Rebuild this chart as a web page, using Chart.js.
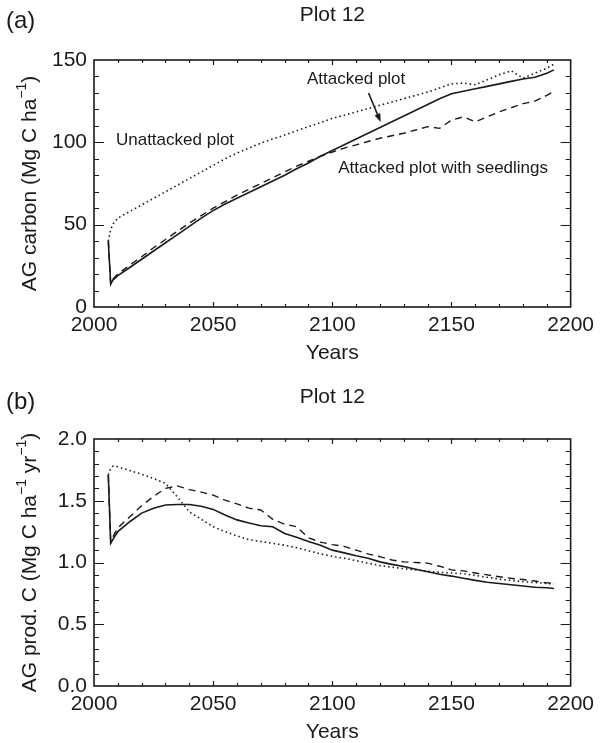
<!DOCTYPE html>
<html>
<head>
<meta charset="utf-8">
<script src="https://cdn.jsdelivr.net/npm/chart.js@4"></script>
<style>
  html, body { margin: 0; padding: 0; background: #fff; }
  #wrap { position: relative; width: 600px; height: 743px; }
  canvas { position: absolute; left: 0; }
</style>
</head>
<body>
<div id="wrap">
  <canvas id="chartA" width="600" height="371" style="top:0"></canvas>
  <canvas id="chartB" width="600" height="372" style="top:371px"></canvas>
</div>
<script>
// --- DATA ---
const years = [2006, 2007, 2008, 2010, 2015, 2020, 2025, 2030, 2035, 2040, 2045, 2050,
  2055, 2060, 2065, 2070, 2075, 2080, 2085, 2090, 2095, 2100,
  2105, 2110, 2115, 2120, 2125, 2130, 2135, 2140, 2145, 2150,
  2155, 2160, 2165, 2170, 2175, 2180, 2185, 2190, 2193];

// (a) AG carbon, Mg C/ha
const carbonAttacked = [40, 14, 16.5,
  19, 24, 29, 34, 39, 44, 49, 54, 58.5,
  62.5, 66, 69.5, 73, 76.5, 80, 84, 87.5, 91.5, 95,
  98.5, 102, 105.5, 109, 112.5, 116, 119.5, 123, 126.5, 129.5,
  131, 132.5, 134, 135.5, 137, 138.5, 139.5, 142, 144];
const carbonSeedlings = [40, 14, 17,
  20, 25.5, 30.5, 36, 41, 46, 51, 55.5, 60,
  64, 68, 71.5, 75, 78.5, 82, 85.5, 88.5, 91.5, 94,
  96.5, 98.5, 100.5, 102.5, 104, 105.5, 107.5, 109.5, 108.5, 113.5,
  115.5, 112.5, 115.5, 118.5, 121, 123.5, 125, 128.5, 131];
const carbonUnattacked = [40, 47, 50.5,
  54, 58, 62, 66, 70, 74, 78, 82, 86,
  90, 93.5, 96.5, 99.5, 102, 104.5, 107, 109.5, 112, 114.5,
  116.5, 118.5, 120.5, 122.5, 124.5, 126.5, 128.5, 130.5, 133, 135.5,
  136, 135, 138, 141, 143.5, 139, 142, 145, 147.5];

// (b) AG production, Mg C/ha/yr
const prodAttacked = [1.71, 1.155, 1.19,
  1.25, 1.33, 1.40, 1.44, 1.465, 1.47, 1.47, 1.455, 1.43,
  1.385, 1.345, 1.32, 1.298, 1.29, 1.235, 1.205, 1.17, 1.14, 1.10,
  1.078, 1.055, 1.035, 1.005, 0.985, 0.967, 0.945, 0.925, 0.905, 0.89,
  0.872, 0.855, 0.84, 0.83, 0.82, 0.81, 0.80, 0.795, 0.79];
const prodSeedlings = [1.71, 1.17, 1.21,
  1.28, 1.37, 1.46, 1.535, 1.60, 1.62, 1.59, 1.57, 1.545,
  1.505, 1.475, 1.44, 1.425, 1.35, 1.31, 1.29, 1.20, 1.165, 1.145,
  1.13, 1.10, 1.07, 1.047, 1.02, 1.005, 1.0, 0.995, 0.97, 0.94,
  0.932, 0.915, 0.90, 0.885, 0.872, 0.862, 0.85, 0.835, 0.832];
const prodUnattacked = [1.71, 1.76, 1.78,
  1.775, 1.745, 1.715, 1.68, 1.64, 1.53, 1.41, 1.35, 1.29,
  1.25, 1.215, 1.185, 1.17, 1.155, 1.14, 1.12, 1.095, 1.07, 1.05,
  1.035, 1.015, 0.995, 0.975, 0.962, 0.95, 0.94, 0.93, 0.92, 0.915,
  0.91, 0.895, 0.88, 0.865, 0.855, 0.845, 0.838, 0.83, 0.826];

const xTicks = [2000, 2050, 2100, 2150, 2200];
const carbonTicks = [0, 50, 100, 150];
const prodTicks = [0, 0.5, 1.0, 1.5, 2.0];

// text labels placed in data coordinates (panel a)
const notesA = [
  { text: 'Unattacked plot', x: 2034, y: 101.5 },
  { text: 'Attacked plot', x: 2110, y: 138 },
  { text: 'Attacked plot with seedlings', x: 2146.5, y: 84.5 }
];
const arrowA = { from: [2115.2, 130], to: [2120.3, 112.3] };

// --- RENDERING ---
const FONT = "'Liberation Sans', Arial, Helvetica, sans-serif";
const INK = '#1a1a1a';

const pts = vals => vals.map((v, i) => ({ x: years[i], y: v }));

const lineStyles = {
  attacked:   { borderColor: INK, borderWidth: 1.6, borderDash: [] },
  seedlings:  { borderColor: INK, borderWidth: 1.4, borderDash: [7, 5] },
  unattacked: { borderColor: INK, borderWidth: 1.6, borderDash: [1.5, 3] }
};

// frame + inward ticks on all four sides
const frameTicks = {
  id: 'frameTicks',
  afterDatasetsDraw(chart, args, o) {
    const { ctx, chartArea: a, scales: { x, y } } = chart;
    ctx.save();
    ctx.strokeStyle = INK;
    ctx.lineWidth = 1.2;
    const nx = Math.round((x.max - x.min) / o.xMinor);
    const kx = Math.round(o.xMajor / o.xMinor);
    for (let i = 1; i < nx; i++) {
      const px = Math.round(x.getPixelForValue(x.min + i * o.xMinor)) + 0.5;
      const len = i % kx === 0 ? 5 : 3;
      ctx.beginPath();
      ctx.moveTo(px, a.bottom); ctx.lineTo(px, a.bottom - len);
      ctx.moveTo(px, a.top); ctx.lineTo(px, a.top + len);
      ctx.stroke();
    }
    const ny = Math.round((y.max - y.min) / o.yMinor);
    const ky = Math.round(o.yMajor / o.yMinor);
    for (let i = 1; i < ny; i++) {
      const py = Math.round(y.getPixelForValue(y.min + i * o.yMinor)) + 0.5;
      const len = i % ky === 0 ? 10 : 5;
      ctx.beginPath();
      ctx.moveTo(a.left, py); ctx.lineTo(a.left + len, py);
      ctx.moveTo(a.right, py); ctx.lineTo(a.right - len, py);
      ctx.stroke();
    }
    ctx.lineWidth = 1.6;
    ctx.strokeRect(a.left, a.top, a.right - a.left, a.bottom - a.top);
    ctx.restore();
  }
};

// titles, axis titles with superscripts, annotations
const texts = {
  id: 'texts',
  afterDraw(chart, args, o) {
    const { ctx, chartArea: a, scales: { x, y } } = chart;
    const cx = (a.left + a.right) / 2;
    ctx.save();
    ctx.fillStyle = INK;
    ctx.textBaseline = 'middle';

    ctx.font = `21px ${FONT}`;
    ctx.textAlign = 'center';
    ctx.fillText('Plot 12', cx, o.titleY);
    ctx.fillText('Years', cx, a.bottom + 46);

    ctx.font = `24px ${FONT}`;
    ctx.textAlign = 'left';
    ctx.fillText(o.letter, 6, o.letterY);

    // rotated y title made of runs, some superscript
    ctx.save();
    ctx.translate(30, (a.top + a.bottom) / 2);
    ctx.rotate(-Math.PI / 2);
    const runs = o.yTitle.map(r => ({ ...r, font: r.sup ? `14px ${FONT}` : `21px ${FONT}` }));
    let total = 0;
    runs.forEach(r => { ctx.font = r.font; r.w = ctx.measureText(r.t).width; total += r.w; });
    let px = -total / 2;
    ctx.textAlign = 'left';
    runs.forEach(r => {
      ctx.font = r.font;
      ctx.fillText(r.t, px, r.sup ? -8 : 0);
      px += r.w;
    });
    ctx.restore();

    if (o.notes) {
      ctx.font = `17px ${FONT}`;
      ctx.textAlign = 'center';
      o.notes.forEach(n => ctx.fillText(n.text, x.getPixelForValue(n.x), y.getPixelForValue(n.y)));
    }
    if (o.arrow) {
      const x0 = x.getPixelForValue(o.arrow.from[0]), y0 = y.getPixelForValue(o.arrow.from[1]);
      const x1 = x.getPixelForValue(o.arrow.to[0]), y1 = y.getPixelForValue(o.arrow.to[1]);
      const ang = Math.atan2(y1 - y0, x1 - x0);
      ctx.strokeStyle = INK;
      ctx.lineWidth = 1.6;
      ctx.beginPath();
      ctx.moveTo(x0, y0);
      ctx.lineTo(x1 - 5 * Math.cos(ang), y1 - 5 * Math.sin(ang));
      ctx.stroke();
      ctx.beginPath();
      ctx.moveTo(x1, y1);
      ctx.lineTo(x1 - 9 * Math.cos(ang - 0.35), y1 - 9 * Math.sin(ang - 0.35));
      ctx.lineTo(x1 - 9 * Math.cos(ang + 0.35), y1 - 9 * Math.sin(ang + 0.35));
      ctx.closePath();
      ctx.fill();
    }
    ctx.restore();
  }
};

function makePanel(id, cfg) {
  const data = {
    datasets: [
      { label: 'Unattacked plot', data: pts(cfg.series[0]), ...lineStyles.unattacked },
      { label: 'Attacked plot with seedlings', data: pts(cfg.series[1]), ...lineStyles.seedlings },
      { label: 'Attacked plot', data: pts(cfg.series[2]), ...lineStyles.attacked }
    ]
  };
  return new Chart(document.getElementById(id), {
    type: 'line',
    data,
    options: {
      responsive: false, animation: false,
      elements: { point: { radius: 0 }, line: { tension: 0, fill: false } },
      layout: { padding: { top: cfg.top, right: 27, bottom: 0, left: 0 } },
      plugins: {
        legend: { display: false }, tooltip: { enabled: false },
        frameTicks: cfg.ticks,
        texts: cfg.texts
      },
      scales: {
        x: {
          type: 'linear', min: 2000, max: 2200,
          grid: { display: false, drawTicks: false }, border: { display: false },
          afterBuildTicks: s => { s.ticks = xTicks.map(v => ({ value: v })); },
          afterFit: s => { s.height = cfg.xHeight; },
          ticks: { padding: 6, maxRotation: 0, color: INK, font: { family: FONT, size: 21 },
            callback: v => String(v) }
        },
        y: {
          min: cfg.yMin, max: cfg.yMax,
          grid: { display: false, drawTicks: false }, border: { display: false },
          afterBuildTicks: s => { s.ticks = cfg.yTicks.map(v => ({ value: v })); },
          afterFit: s => { s.width = 94; },
          ticks: { padding: 7, color: INK, font: { family: FONT, size: 21 }, callback: cfg.fmt }
        }
      }
    },
    plugins: [frameTicks, texts]
  });
}

makePanel('chartA', {
  series: [carbonUnattacked, carbonSeedlings, carbonAttacked],
  top: 60, xHeight: 64, yMin: 0, yMax: 150, yTicks: carbonTicks,
  fmt: v => String(v),
  ticks: { xMinor: 10, xMajor: 50, yMinor: 10, yMajor: 50 },
  texts: {
    letter: '(a)', letterY: 21, titleY: 15,
    yTitle: [{ t: 'AG carbon (Mg C ha' }, { t: '\u22121', sup: true }, { t: ')' }],
    notes: notesA, arrow: arrowA
  }
});

makePanel('chartB', {
  series: [prodUnattacked, prodSeedlings, prodAttacked],
  top: 68, xHeight: 57, yMin: 0, yMax: 2, yTicks: prodTicks,
  fmt: v => Number(v).toFixed(1),
  ticks: { xMinor: 10, xMajor: 50, yMinor: 0.1, yMajor: 0.5 },
  texts: {
    letter: '(b)', letterY: 31, titleY: 26,
    yTitle: [{ t: 'AG prod. C (Mg C ha' }, { t: '\u22121', sup: true }, { t: ' yr' }, { t: '\u22121', sup: true }, { t: ')' }]
  }
});
</script>
</body>
</html>
